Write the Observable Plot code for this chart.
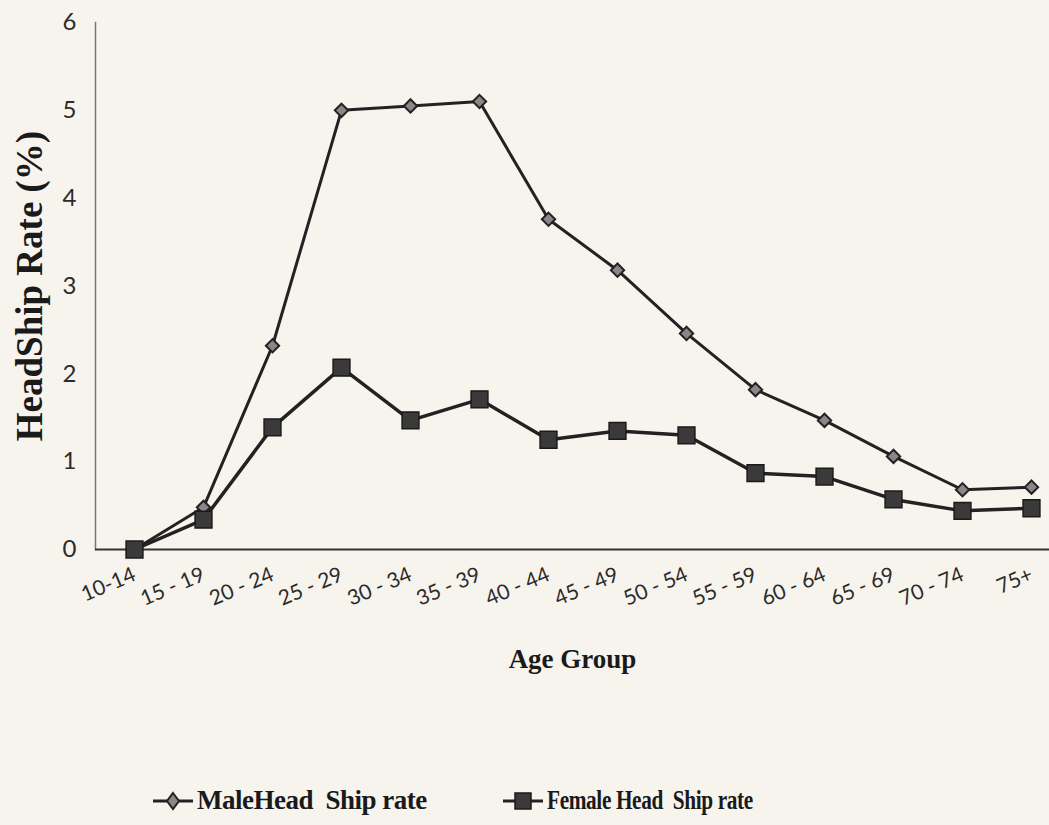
<!DOCTYPE html>
<html>
<head>
<meta charset="utf-8">
<script src="https://cdn.jsdelivr.net/npm/d3@7"></script>
<script src="https://cdn.jsdelivr.net/npm/@observablehq/plot@0.6"></script>
<style>
  html, body { margin: 0; padding: 0; background: #f7f4ee; }
  #wrap { position: relative; width: 1049px; height: 825px; overflow: hidden; }
  g[aria-label="y-axis label"] text { font-family: "Liberation Serif", serif; font-weight: bold; font-size: 37px; fill: #1a1a1a; }
  g[aria-label="x-axis label"] text { font-family: "Liberation Serif", serif; font-weight: bold; font-size: 27px; fill: #1a1a1a; }
  #legend { position: absolute; left: 151px; top: 785px; display: flex; align-items: center;
            font-family: "Liberation Serif", serif; font-weight: bold; font-size: 27px; color: #1a1a1a; letter-spacing: -0.5px; }
  .item { display: flex; align-items: center; }
  .item svg { margin-right: 2px; }
  .narrow { display: inline-block; transform: scaleX(0.79); transform-origin: left center; }
</style>
</head>
<body>
<div id="wrap">
  <div id="chart"></div>
  <div id="legend">
    <div class="item" style="margin-right:74px">
      <svg width="44" height="24"><line x1="2" y1="12" x2="42" y2="12" stroke="#222" stroke-width="3"/><path d="M22,4 L28,12 L22,20 L16,12 Z" fill="#888" stroke="#222" stroke-width="2"/></svg>
      <span>MaleHead&nbsp;&nbsp;Ship rate</span>
    </div>
    <div class="item">
      <svg width="44" height="24"><line x1="2" y1="12" x2="42" y2="12" stroke="#222" stroke-width="3"/><rect x="14" y="4" width="16" height="16" fill="#3a3a3a" stroke="#1a1a1a" stroke-width="1.5"/></svg>
      <span class="narrow">Female Head&nbsp;&nbsp;Ship rate</span>
    </div>
  </div>
</div>
<script>
const ageGroups = ["10-14", "15 - 19", "20 - 24", "25 - 29", "30 - 34", "35 - 39", "40 - 44",
                   "45 - 49", "50 - 54", "55 - 59", "60 - 64", "65 - 69", "70 - 74", "75+"];
const maleRate   = [0, 0.48, 2.32, 5.0, 5.05, 5.1, 3.76, 3.18, 2.46, 1.82, 1.47, 1.06, 0.68, 0.71];
const femaleRate = [0, 0.34, 1.39, 2.07, 1.47, 1.71, 1.25, 1.35, 1.30, 0.87, 0.83, 0.57, 0.44, 0.47];
const yTicks = [0, 1, 2, 3, 4, 5, 6];

const male = ageGroups.map((g, i) => ({group: g, rate: maleRate[i]}));
const female = ageGroups.map((g, i) => ({group: g, rate: femaleRate[i]}));

const chart = Plot.plot({
  width: 1049,
  height: 760,
  marginLeft: 95,
  marginRight: 0,
  marginTop: 22,
  marginBottom: 211,
  style: {background: "transparent", fontFamily: "Lato, 'Open Sans', sans-serif", color: "#2b2b2b", overflow: "visible"},
  x: {type: "point", domain: ageGroups, range: [128, 1036], padding: 0},
  y: {domain: [0, 6]},
  marks: [
    Plot.frame({anchor: "left", stroke: "#777", strokeWidth: 1.5}),
    Plot.ruleY([0], {stroke: "#333", strokeWidth: 2}),
    Plot.axisY({ticks: yTicks, tickFormat: "d", tickSize: 0, tickPadding: 19, fontSize: 24,
                label: "HeadShip Rate (%)", labelArrow: "none", labelAnchor: "center", labelOffset: 80}),
    Plot.axisX({tickSize: 0, tickRotate: -23, textAnchor: "end", tickPadding: 24, fontSize: 21,
                label: "Age Group", labelAnchor: "center", labelOffset: 118}),
    Plot.line(male, {x: "group", y: "rate", stroke: "#222", strokeWidth: 3}),
    Plot.line(female, {x: "group", y: "rate", stroke: "#222", strokeWidth: 3.5}),
    Plot.dot(male, {x: "group", y: "rate", symbol: "diamond2", r: 6, fill: "#888", stroke: "#222", strokeWidth: 2}),
    Plot.dot(female, {x: "group", y: "rate", symbol: "square", r: 9.5, fill: "#3a3a3a", stroke: "#1a1a1a", strokeWidth: 1.5})
  ]
});
document.getElementById("chart").appendChild(chart);
</script>
</body>
</html>
